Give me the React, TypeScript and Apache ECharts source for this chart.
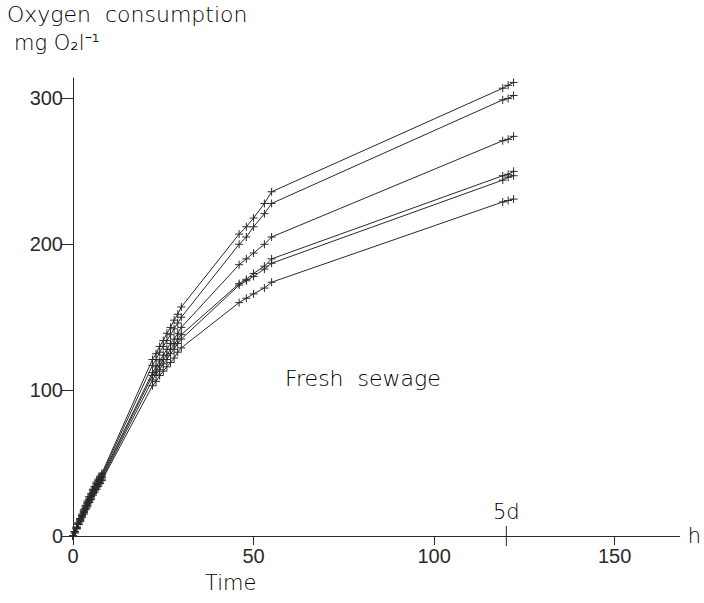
import React, { useEffect, useRef } from "react";
import * as echarts from "echarts";

const hours = [0, 0.5, 1, 1.5, 2, 2.5, 3, 3.5, 4, 4.5, 5, 5.5, 6, 6.5, 7, 7.5, 8, 22, 23, 24, 25, 26, 27, 28, 29, 30, 46, 48, 50, 53, 55, 119, 120.5, 122];

const s1 = [0, 3, 6, 9, 12, 15, 18, 21, 24, 27, 29, 32, 34, 37, 39, 41, 43, 121, 125, 130, 134, 139, 143, 148, 152, 157, 207, 212, 218, 228, 236, 307, 309, 311];
const s2 = [0, 3, 6, 9, 12, 14, 17, 20, 23, 26, 28, 31, 33, 36, 38, 40, 42, 117, 121, 126, 130, 134, 138, 142, 146, 150, 200, 205, 212, 221, 228, 299, 300, 302];
const s3 = [0, 3, 6, 8, 11, 14, 17, 19, 22, 25, 27, 30, 32, 35, 37, 39, 41, 112, 116, 120, 124, 128, 132, 135, 139, 143, 186, 190, 194, 200, 205, 271, 272, 274];
const s4 = [0, 3, 5, 8, 11, 14, 16, 19, 22, 24, 27, 29, 32, 34, 36, 38, 40, 110, 113, 117, 121, 124, 128, 131, 135, 138, 173, 176, 180, 185, 190, 247, 248, 250];
const s5 = [0, 3, 5, 8, 11, 13, 16, 19, 21, 24, 26, 29, 31, 33, 35, 37, 39, 107, 111, 114, 118, 121, 125, 128, 132, 135, 172, 175, 178, 183, 187, 244, 246, 247];
const s6 = [0, 2, 5, 8, 10, 13, 15, 18, 20, 23, 25, 28, 30, 32, 34, 36, 38, 103, 106, 110, 113, 116, 119, 122, 126, 129, 160, 163, 166, 170, 174, 229, 230, 231];

const allSeries = [s1, s2, s3, s4, s5, s6];
const xTicks = [0, 50, 100, 150];
const yTicks = [0, 100, 200, 300];
const fiveDayHours = 120;

const INK = "#2a2a2a";
const TXT = "#000000";
const FONT = "'Liberation Sans', Arial, sans-serif";
const TFONT = "'DejaVu Sans', sans-serif";

export default function App() {
  const ref = useRef<HTMLDivElement>(null);
  useEffect(() => {
    if (!ref.current) return;
    const chart = echarts.init(ref.current, null, { renderer: "svg" });
    const series = allSeries.map((vals, i) => ({
      type: "line",
      name: "S" + (i + 1),
      data: vals.map((v, j) => [hours[j], v]),
      symbol: "path://M0,5L10,5M5,0L5,10",
      symbolSize: 8,
      showSymbol: true,
      lineStyle: { color: INK, width: 1 },
      itemStyle: { color: "none", borderColor: INK, borderWidth: 1 },
      z: 2,
    }));
    const texts = [
      { type: "text", left: 7, top: 3, style: { text: "Oxygen  consumption", font: `200 22px ${TFONT}`, fill: TXT } },
      { type: "text", left: 14, top: 32, style: { text: "mg O\u2082l\u207B\u00B9", font: `200 21px ${TFONT}`, fill: TXT } },
      { type: "text", left: 285, top: 367, style: { text: "Fresh  sewage", font: `200 22px ${TFONT}`, fill: TXT } },
      { type: "text", left: 205, top: 572, style: { text: "Time", font: `200 21px ${TFONT}`, fill: TXT } },
    ];
    chart.setOption({
      animation: false,
      backgroundColor: "#ffffff",
      grid: { left: 73, right: 22, top: 78, bottom: 67, containLabel: false },
      xAxis: {
        type: "value",
        min: 0,
        max: 168,
        interval: 50,
        axisLine: { show: true, onZero: false, lineStyle: { color: INK, width: 1 } },
        axisTick: { show: true, inside: false, length: 9, lineStyle: { color: INK } },
        axisLabel: {
          color: INK,
          fontFamily: FONT,
          fontSize: 20,
          margin: 10,
          showMaxLabel: false,
          formatter: (v: number) => (xTicks.includes(v) ? String(v) : ""),
        },
        splitLine: { show: false },
        name: "h",
        nameLocation: "end",
        nameGap: 8,
        nameTextStyle: { color: TXT, fontFamily: TFONT, fontWeight: 200, fontSize: 21, verticalAlign: "middle" },
      },
      yAxis: {
        type: "value",
        min: 0,
        max: 314,
        interval: 100,
        axisLine: { show: true, onZero: false, lineStyle: { color: INK, width: 1 } },
        axisTick: { show: true, inside: false, length: 11, lineStyle: { color: INK } },
        axisLabel: {
          color: INK,
          fontFamily: FONT,
          fontSize: 20,
          margin: 10,
          showMaxLabel: false,
          formatter: (v: number) => (yTicks.includes(v) ? String(v) : ""),
        },
        splitLine: { show: false },
      },
      series,
      graphic: texts,
    });
    const p = chart.convertToPixel({ xAxisIndex: 0, yAxisIndex: 0 }, [fiveDayHours, 0]) as number[];
    chart.setOption({
      graphic: [
        ...texts,
        { type: "line", shape: { x1: p[0], y1: p[1] - 10, x2: p[0], y2: p[1] + 10 }, style: { stroke: INK, lineWidth: 1 } },
        { type: "text", x: p[0], y: p[1] - 14, style: { text: "5d", font: `200 21px ${TFONT}`, fill: TXT, align: "center", verticalAlign: "bottom" } },
      ],
    }, { replaceMerge: ["graphic"] });
    return () => chart.dispose();
  }, []);
  return <div ref={ref} style={{ position: "fixed", left: 0, top: 0, width: 704, height: 603 }} />;
}
